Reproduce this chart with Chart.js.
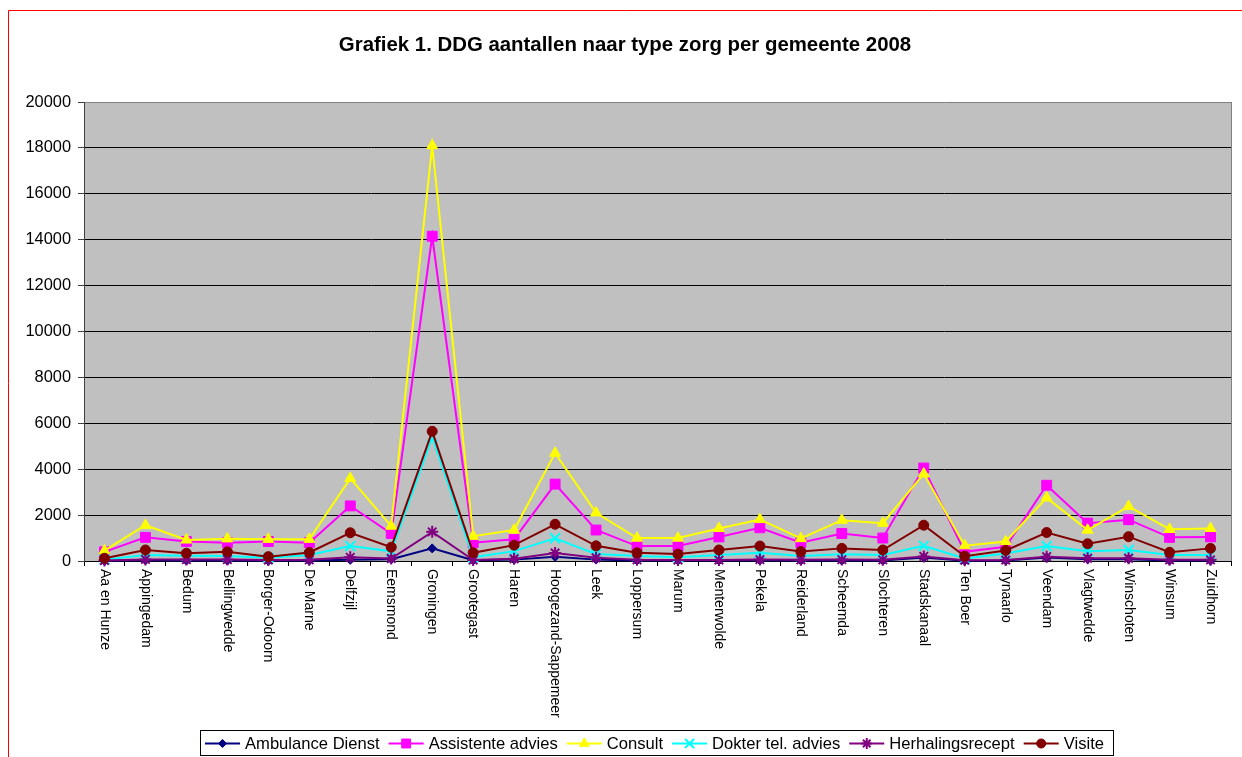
<!DOCTYPE html>
<html><head><meta charset="utf-8">
<script src="https://cdn.jsdelivr.net/npm/chart.js@4/dist/chart.umd.min.js"></script>
<style>html,body{margin:0;padding:0;background:#fff;overflow:hidden}</style>
</head><body>
<canvas id="c" width="1242" height="757"></canvas>
<script>
const titleText = "Grafiek 1. DDG aantallen naar type zorg per gemeente 2008";
const categories = ["Aa en Hunze","Appingedam","Bedum","Bellingwedde","Borger-Odoorn","De Marne","Delfzijl","Eemsmond","Groningen","Grootegast","Haren","Hoogezand-Sappemeer","Leek","Loppersum","Marum","Menterwolde","Pekela","Reiderland","Scheemda","Slochteren","Stadskanaal","Ten Boer","Tynaarlo","Veendam","Vlagtwedde","Winschoten","Winsum","Zuidhorn"];
const seriesNames = ["Ambulance Dienst","Assistente advies","Consult","Dokter tel. advies","Herhalingsrecept","Visite"];
const ambulanceDienst = [10,30,20,20,10,20,50,80,550,30,60,180,60,20,20,20,30,20,20,20,150,10,20,150,80,80,20,20];
const assistenteAdvies = [400,1030,850,800,850,800,2400,1200,14150,800,950,3350,1350,650,650,1050,1450,800,1200,1000,4050,400,620,3300,1650,1800,1030,1050];
const consult = [450,1560,920,970,950,950,3600,1520,18100,1080,1350,4700,2100,1000,1000,1420,1810,980,1780,1650,3800,670,850,2750,1350,2380,1380,1420];
const dokterTelAdvies = [60,260,230,220,140,260,650,420,5400,160,430,990,300,220,160,260,360,220,290,260,660,110,330,650,430,480,260,260];
const herhalingsrecept = [20,70,60,60,40,50,160,110,1270,40,100,350,140,50,40,40,60,50,60,50,200,30,40,190,120,120,50,50];
const visite = [120,480,340,400,190,370,1230,600,5650,360,690,1600,660,360,300,480,650,410,550,480,1560,210,460,1240,750,1060,380,550];
const yTickValues = [0,2000,4000,6000,8000,10000,12000,14000,16000,18000,20000];
const yTickLabels = ["0","2000","4000","6000","8000","10000","12000","14000","16000","18000","20000"];

const FONT = '"Liberation Sans", Arial, sans-serif';
const styles = [
  {color:'#000080', pointStyle:'rectRot', radius:4.5, bw:1},
  {color:'#FF00FF', pointStyle:'rect', radius:7, bw:1},
  {color:'#FFFF00', pointStyle:'triangle', radius:6.3, bw:1},
  {color:'#00FFFF', pointStyle:'crossRot', radius:7, bw:2},
  {color:'#800080', pointStyle:'star', radius:6, bw:2},
  {color:'#800000', pointStyle:'circle', radius:5, bw:1}
];
const seriesData = [ambulanceDienst, assistenteAdvies, consult, dokterTelAdvies, herhalingsrecept, visite];

const datasets = seriesNames.map((name, i) => ({
  label: name,
  data: seriesData[i],
  borderColor: styles[i].color,
  backgroundColor: styles[i].color,
  pointBackgroundColor: styles[i].color,
  pointBorderColor: styles[i].color,
  pointStyle: styles[i].pointStyle,
  pointRadius: styles[i].radius,
  pointBorderWidth: styles[i].bw,
  borderWidth: 2,
  tension: 0,
  clip: false,
  order: seriesNames.length - i
}));

const decor = {
  id: 'decor',
  beforeDraw(chart) {
    const ctx = chart.ctx, a = chart.chartArea;
    ctx.save();
    ctx.fillStyle = '#fff';
    ctx.fillRect(0, 0, chart.width, chart.height);
    ctx.fillStyle = '#C0C0C0';
    ctx.fillRect(a.left, a.top, a.right - a.left, a.bottom - a.top);
    ctx.restore();
  },
  afterDraw(chart) {
    const ctx = chart.ctx, a = chart.chartArea;
    ctx.save();
    ctx.strokeStyle = '#808080';
    ctx.lineWidth = 1;
    ctx.beginPath();
    ctx.moveTo(Math.round(a.right) + 0.5, a.top);
    ctx.lineTo(Math.round(a.right) + 0.5, a.bottom);
    ctx.stroke();
    ctx.strokeStyle = '#FF0000';
    ctx.beginPath();
    ctx.moveTo(8.5, 757);
    ctx.lineTo(8.5, 10.5);
    ctx.lineTo(1242, 10.5);
    ctx.stroke();
    ctx.fillStyle = '#000';
    ctx.font = 'bold 20.4px ' + FONT;
    ctx.textAlign = 'center';
    ctx.textBaseline = 'alphabetic';
    ctx.fillText(titleText, 625, 51);
    const xs = chart.scales.x;
    ctx.font = '14px ' + FONT;
    ctx.textAlign = 'left';
    ctx.textBaseline = 'middle';
    categories.forEach((lab, i) => {
      const x = xs.getPixelForValue(i);
      ctx.save();
      ctx.translate(x, 569);
      ctx.rotate(Math.PI / 2);
      ctx.fillText(lab, 0, 0);
      ctx.restore();
    });
    const bx = 200, by = 730, bw = 913, bh = 25;
    ctx.strokeStyle = '#000';
    ctx.lineWidth = 1;
    ctx.strokeRect(bx + 0.5, by + 0.5, bw, bh);
    ctx.font = '16.6px ' + FONT;
    let x = 205;
    const cy = 743.5;
    seriesNames.forEach((name, i) => {
      const s = styles[i];
      ctx.strokeStyle = s.color;
      ctx.fillStyle = s.color;
      ctx.lineWidth = 2;
      ctx.beginPath();
      ctx.moveTo(x, cy);
      ctx.lineTo(x + 35, cy);
      ctx.stroke();
      ctx.lineWidth = s.bw;
      Chart.helpers.drawPoint(ctx, {pointStyle: s.pointStyle, radius: s.radius * 0.9, rotation: 0, borderWidth: s.bw}, x + 17.5, cy);
      ctx.fillStyle = '#000';
      ctx.textAlign = 'left';
      ctx.textBaseline = 'middle';
      ctx.fillText(name, x + 40, cy + 1);
      x += 40 + ctx.measureText(name).width + 9;
    });
    ctx.restore();
  }
};

new Chart(document.getElementById('c'), {
  type: 'line',
  data: { labels: categories, datasets },
  options: {
    responsive: false,
    animation: false,
    devicePixelRatio: 1,
    layout: { padding: { top: 102, right: 11, left: 0, bottom: 0 } },
    plugins: { legend: { display: false }, title: { display: false }, tooltip: { enabled: false } },
    scales: {
      x: {
        type: 'category',
        offset: true,
        grid: { display: true, offset: true, drawOnChartArea: false, drawTicks: true, tickLength: 5, color: '#000' },
        border: { display: true, color: '#000', width: 1 },
        ticks: { display: false },
        afterFit: s => { s.height = 196; }
      },
      y: {
        min: 0, max: 20000,
        afterBuildTicks: s => { s.ticks = yTickValues.map(v => ({ value: v })); },
        ticks: {
          font: { family: FONT, size: 16.4 },
          color: '#000',
          padding: 7,
          callback: v => yTickLabels[yTickValues.indexOf(v)]
        },
        grid: {
          color: c => (c.tick && c.tick.value === 20000) ? '#808080' : '#000',
          tickColor: '#404040',
          tickLength: 6
        },
        border: { color: '#404040', width: 1 },
        afterFit: s => { s.width = 84; }
      }
    }
  },
  plugins: [decor]
});
</script>
</body></html>
